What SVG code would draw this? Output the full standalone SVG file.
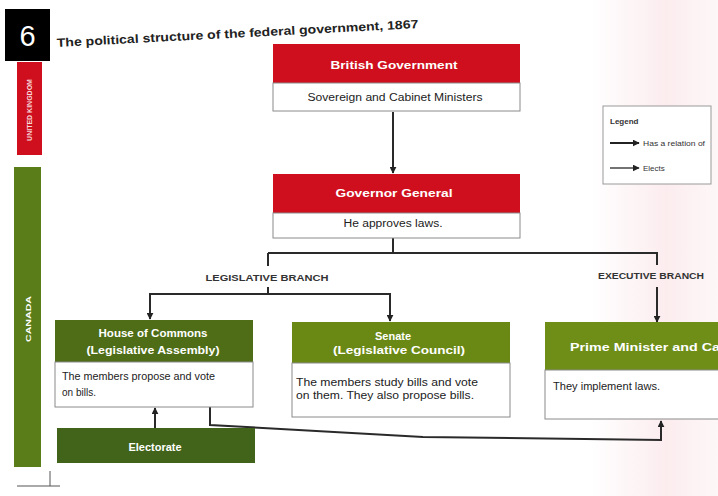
<svg xmlns="http://www.w3.org/2000/svg" width="718" height="496" viewBox="0 0 718 496">
<defs>
<linearGradient id="tint" x1="0" y1="0" x2="1" y2="0">
<stop offset="0" stop-color="#f4c4cc" stop-opacity="0"/>
<stop offset="0.6" stop-color="#f4c0c8" stop-opacity="0.3"/>
<stop offset="1" stop-color="#f6d6da" stop-opacity="0.2"/>
</linearGradient>
<marker id="arr" viewBox="0 0 10 10" refX="9" refY="5" markerWidth="7" markerHeight="7" orient="auto" markerUnits="userSpaceOnUse">
<path d="M0,0 L10,5 L0,10 z" fill="#222"/>
</marker>
<style>
text{font-family:"Liberation Sans",Arial,sans-serif}
.hd{fill:#fff;font-weight:bold;font-size:11px;text-anchor:middle}
.bd{fill:#222;font-size:10px}
.bdc{fill:#222;font-size:10px;text-anchor:middle}
.br{fill:#333;font-weight:bold;font-size:9px;text-anchor:middle}
.red{fill:#cf0f1d}
.body{fill:#fff;stroke:#8a8a8a;stroke-width:1}
.con{fill:none;stroke:#2a2a2a;stroke-width:2}
.strip{fill:#fff;font-size:7px;font-weight:bold;text-anchor:middle}
</style>
</defs>
<rect width="718" height="496" fill="#fff"/>
<rect x="590" y="0" width="128" height="496" fill="url(#tint)"/>

<g id="badge">
<rect x="5" y="9" width="45" height="52" fill="#000"/>
<text x="27.5" y="46" font-size="29" fill="#fff" text-anchor="middle">6</text>
</g>

<g id="title">
<text x="57" y="47" transform="rotate(-3 57 47)" font-size="12" font-weight="bold" fill="#222" textLength="362" lengthAdjust="spacingAndGlyphs">The political structure of the federal government, 1867</text>
</g>

<g id="uk-strip">
<rect x="17" y="62" width="25" height="93" class="red"/>
<text class="strip" transform="translate(32 110) rotate(-90)" fill-opacity="0.85">UNITED KINGDOM</text>
</g>

<g id="canada-strip">
<rect x="14" y="167" width="27" height="300" fill="#5a7d19"/>
<text class="strip" font-size="9" transform="translate(30.5 319) rotate(-90)" textLength="46" lengthAdjust="spacingAndGlyphs">CANADA</text>
</g>

<g id="bottom-marks">
<path d="M50,471 V486 M17,486 H60" stroke="#555" stroke-width="1" fill="none"/>
</g>

<g id="connectors">
<line class="con" x1="393" y1="112" x2="393" y2="173" marker-end="url(#arr)"/>
<path class="con" d="M393,238 V253"/>
<path class="con" d="M268,253 H657 V265"/>
<path class="con" d="M268,253 V266"/>
<path class="con" d="M268,287 V294"/>
<path class="con" d="M150,294 H390"/>
<line class="con" x1="150" y1="293" x2="150" y2="319" marker-end="url(#arr)"/>
<line class="con" x1="390" y1="293" x2="390" y2="321" marker-end="url(#arr)"/>
<line class="con" x1="657" y1="287" x2="657" y2="322" marker-end="url(#arr)"/>
<line class="con" x1="155" y1="428" x2="155" y2="408" marker-end="url(#arr)"/>
<path class="con" d="M210,407 V425 L423,437 L661,440 V421" marker-end="url(#arr)"/>
<text class="br" x="267" y="281" textLength="123" lengthAdjust="spacingAndGlyphs">LEGISLATIVE BRANCH</text>
<text class="br" x="651" y="279" textLength="106" lengthAdjust="spacingAndGlyphs">EXECUTIVE BRANCH</text>
</g>

<g id="british-government">
<rect x="273" y="44" width="247" height="39" class="red"/>
<rect x="273" y="83" width="247" height="28" class="body"/>
<text class="hd" x="394" y="69" textLength="127" lengthAdjust="spacingAndGlyphs">British Government</text>
<text class="bdc" x="395" y="101" textLength="175" lengthAdjust="spacingAndGlyphs">Sovereign and Cabinet Ministers</text>
</g>

<g id="governor-general">
<rect x="273" y="174" width="247" height="39" class="red"/>
<rect x="273" y="213" width="247" height="25" class="body"/>
<text class="hd" x="394" y="197" textLength="117" lengthAdjust="spacingAndGlyphs">Governor General</text>
<text class="bdc" x="393" y="227" textLength="99" lengthAdjust="spacingAndGlyphs">He approves laws.</text>
</g>

<g id="house-of-commons">
<rect x="55" y="320" width="198" height="42" fill="#4e6d16"/>
<rect x="55" y="362" width="198" height="45" class="body"/>
<text class="hd" x="153" y="337" font-size="10" fill="#eef2e0" textLength="109" lengthAdjust="spacingAndGlyphs">House of Commons</text>
<text class="hd" x="153" y="354" font-size="10" textLength="133" lengthAdjust="spacingAndGlyphs">(Legislative Assembly)</text>
<text class="bd" x="62" y="380" textLength="153" lengthAdjust="spacingAndGlyphs">The members propose and vote</text>
<text class="bd" x="62" y="396">on bills.</text>
</g>

<g id="senate">
<rect x="292" y="322" width="218" height="41" fill="#6a8914"/>
<rect x="292" y="363" width="218" height="54" class="body"/>
<text class="hd" x="393" y="340" font-size="10">Senate</text>
<text class="hd" x="399" y="354" font-size="10" textLength="132" lengthAdjust="spacingAndGlyphs">(Legislative Council)</text>
<text class="bd" x="296" y="386" textLength="182" lengthAdjust="spacingAndGlyphs">The members study bills and vote</text>
<text class="bd" x="296" y="399" textLength="178" lengthAdjust="spacingAndGlyphs">on them. They also propose bills.</text>
</g>

<g id="prime-minister">
<rect x="545" y="322" width="180" height="48" fill="#6e8e18"/>
<rect x="545" y="370" width="180" height="49" class="body"/>
<text class="hd" x="570" y="351" style="text-anchor:start" font-size="12" textLength="184" lengthAdjust="spacingAndGlyphs">Prime Minister and Cabinet</text>
<text class="bd" x="553" y="390" textLength="107" lengthAdjust="spacingAndGlyphs">They implement laws.</text>
</g>

<g id="electorate">
<rect x="57" y="428" width="198" height="35" fill="#41641a"/>
<text class="hd" x="155" y="451" font-size="10" fill="#e4ebd2">Electorate</text>
</g>

<g id="legend">
<rect x="603" y="106" width="108" height="78" fill="#fff" stroke="#999" stroke-width="1"/>
<text x="610" y="124" font-size="8" font-weight="bold" fill="#333">Legend</text>
<line x1="610" y1="143" x2="639" y2="143" stroke="#222" stroke-width="2" marker-end="url(#arr)"/>
<text x="643" y="146" font-size="8" fill="#333" textLength="62" lengthAdjust="spacingAndGlyphs">Has a relation of</text>
<line x1="610" y1="168" x2="639" y2="168" stroke="#444" stroke-width="1.5" marker-end="url(#arr)"/>
<text x="643" y="171" font-size="8" fill="#333">Elects</text>
</g>
</svg>
